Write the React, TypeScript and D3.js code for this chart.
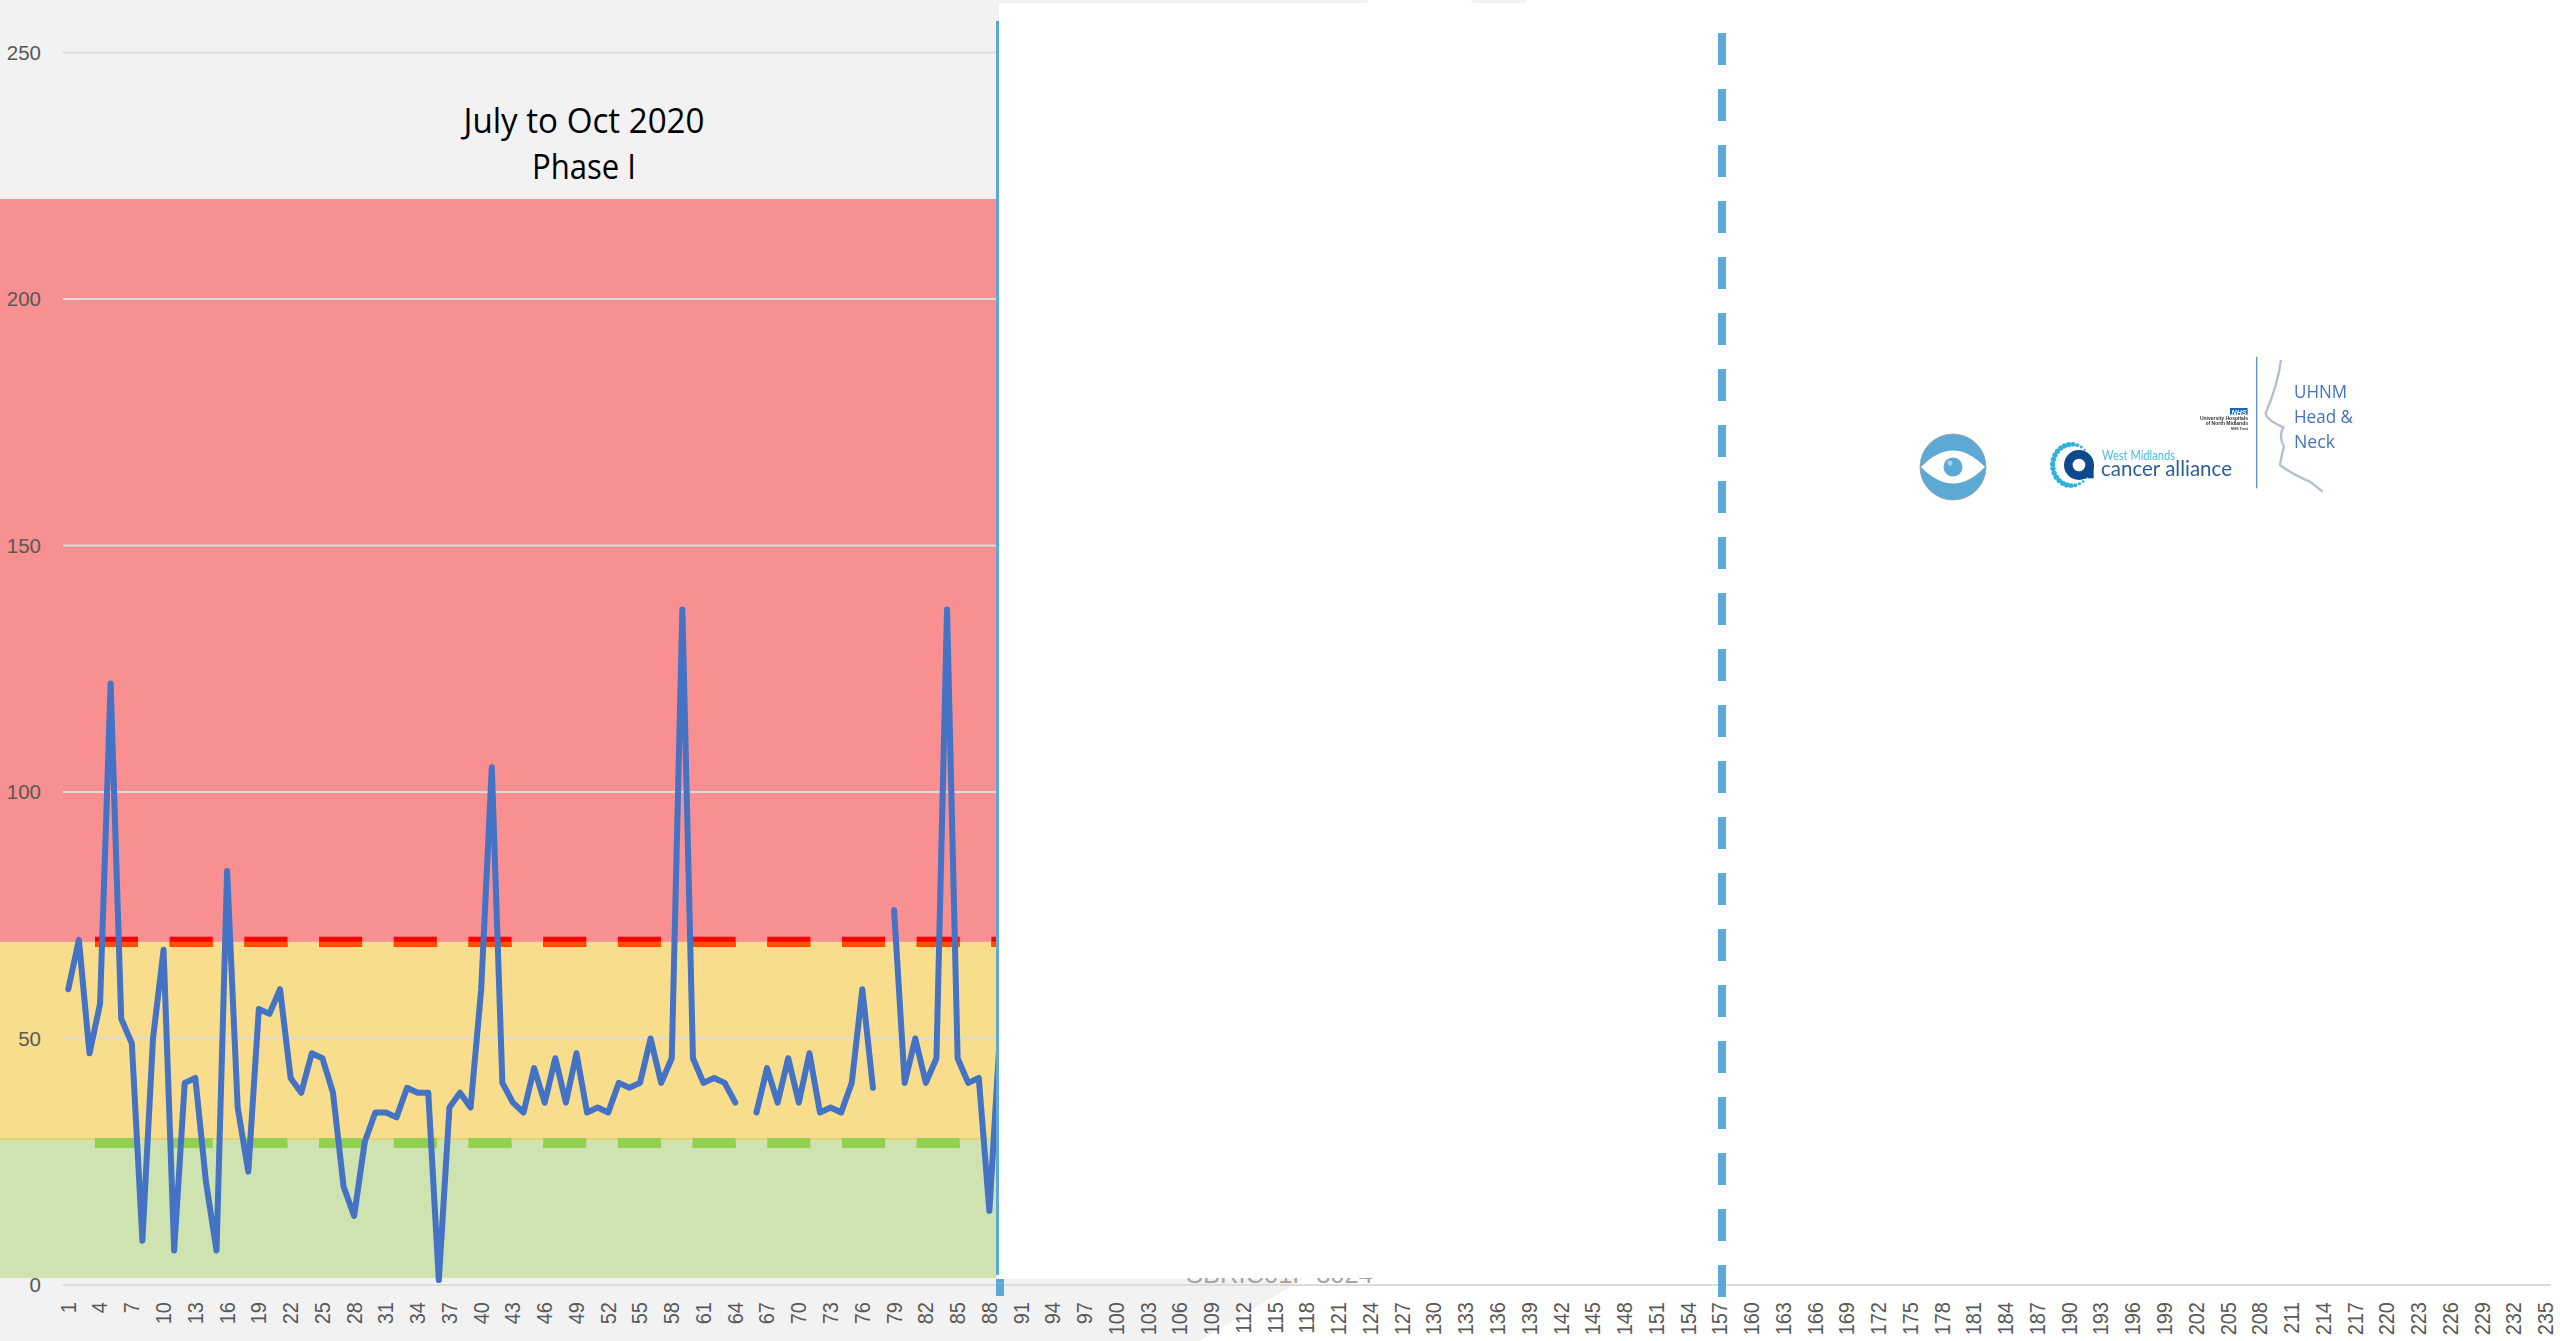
import React from "react";
import * as d3 from "d3";

const W = 2560, H = 1341;
const categoryCount = 235;
const categories = d3.range(1, categoryCount + 1);
const yTicks = [0, 50, 100, 150, 200, 250];
const seriesValues: (number | null)[] = [
  60, 70, 47, 57, 122, 54, 49, 9, 50, 68, 7, 41, 42, 21, 7, 84, 36, 23, 56, 55,
  60, 42, 39, 47, 46, 39, 20, 14, 29, 35, 35, 34, 40, 39, 39, 1, 36, 39, 36, 60,
  105, 41, 37, 35, 44, 37, 46, 37, 47, 35, 36, 35, 41, 40, 41, 50, 41, 46, 137, 46,
  41, 42, 41, 37, null, 35, 44, 37, 46, 37, 47, 35, 36, 35, 41, 60, 40, null, 76, 41,
  50, 41, 46, 137, 46, 41, 42, 15, 51,
];
const bandEdges = [1.4, 29.6, 69.6, 220.3];
const bandColors = ["#cee3b0", "#f8dd8d", "#f88f90"];
const upperLimit = 69.6;
const lowerLimit = 28.8;
const titleLines = ["July to Oct 2020", "Phase I"];
const titleWidths = [241, 104];
const logoLines = ["UHNM", "Head &", "Neck"];
const logoWidths = [53, 59, 41];

const x = d3.scaleBand<number>().domain(categories).range([63, 2551]);
const y = d3.scaleLinear().domain([0, 250]).range([1285, 52.5]);
const cx = (c: number) => (x(c) as number) + x.bandwidth() / 2;

const line = d3
  .line<number | null>()
  .defined((d) => d !== null)
  .x((_, i) => cx(categories[i]))
  .y((d) => y(d as number));

const SANS = "'Open Sans', sans-serif";
const AXIS = "'Liberation Sans', sans-serif";
const PANEL_X = 996;

function Limit({ value, top, bottom }: { value: number; top: string; bottom: string }) {
  const yy = y(value);
  return (
    <g fill="none" strokeDasharray="43 31.7">
      <line x1={95} x2={PANEL_X} y1={yy} y2={yy} stroke={top} strokeWidth={10} />
      <line x1={95} x2={PANEL_X} y1={yy + 2.5} y2={yy + 2.5} stroke={bottom} strokeWidth={5} />
    </g>
  );
}

function Logos() {
  const arcDots = d3.range(40, 321, 13).map((deg) => {
    const a = (deg * Math.PI) / 180;
    const fade = Math.min(1, Math.min(deg - 30, 330 - deg) / 70);
    return { x: 575 + 57 * Math.cos(a), y: 375 + 62 * Math.sin(a), r: 2 + 6 * fade };
  });
  return (
    <g filter="url(#soft)">
      <circle cx={1953} cy={467} r={33} fill="#5ba9d6" stroke="#9a9a9a" strokeWidth={0.8} />
      <path d="M1921 467 Q1953 434 1985 467 Q1953 500 1921 467 Z" fill="#fff" />
      <circle cx={1953} cy={467} r={9.5} fill="#5ba9d6" />
      <circle cx={1950} cy={463} r={2.5} fill="#a8d4ec" />
      <g transform="translate(1880,340) scale(0.3333)">
        {arcDots.map((d, i) => (
          <circle key={i} cx={d.x} cy={d.y} r={d.r} fill="#2eb2dd" />
        ))}
        <circle cx={597} cy={375} r={32} fill="none" stroke="#0d4a8c" strokeWidth={26} />
        <rect x={623} y={375} width={18} height={40} fill="#0d4a8c" />
        <path
          d="M1203 60 Q1195 130 1157 220 Q1160 240 1210 262 Q1195 290 1212 320 Q1205 345 1200 375 Q1240 405 1290 425 L1328 455"
          fill="none"
          stroke="#b4bfcf"
          strokeWidth={7}
        />
        <line x1={1130} x2={1130} y1={50} y2={445} stroke="#5a8fd6" strokeWidth={4} />
        <rect x={1050} y={204} width={53} height={20} fill="#1f66b8" />
      </g>
      <text x={2239} y={415} fontFamily={AXIS} fontSize={7} fontWeight={700} fontStyle="italic" fill="#fff" textAnchor="middle">NHS</text>
      <g fontFamily={AXIS} fill="#333" textAnchor="end" fontWeight={700}>
        <text x={2248} y={420} fontSize={5}>University Hospitals</text>
        <text x={2248} y={425} fontSize={5}>of North Midlands</text>
        <text x={2248} y={430} fontSize={3.5}>NHS Trust</text>
      </g>
      <text x={2102} y={460} fontFamily="Lato, sans-serif" fontSize={13} fill="#4dbde8" textLength={73} lengthAdjust="spacingAndGlyphs">West Midlands</text>
      <text x={2101} y={476} fontFamily="Lato, sans-serif" fontSize={22} fill="#2b5f9e" textLength={131} lengthAdjust="spacingAndGlyphs">cancer alliance</text>
      {logoLines.map((t, i) => (
        <text key={t} x={2294} y={398 + i * 25} fontFamily={SANS} fontSize={19} fill="#4472c4" textLength={logoWidths[i]} lengthAdjust="spacingAndGlyphs">{t}</text>
      ))}
    </g>
  );
}

export default function App() {
  return (
    <svg
      width={W}
      height={H}
      viewBox={`0 0 ${W} ${H}`}
      style={{ position: "fixed", left: 0, top: 0, display: "block", background: "#f2f2f2" }}
    >
      <defs>
        <clipPath id="plot"><rect x={0} y={0} width={PANEL_X} height={H} /></clipPath>
        <clipPath id="cut"><rect x={1100} y={1278} width={400} height={7} /></clipPath>
        <filter id="soft" x="-5%" y="-5%" width="110%" height="110%"><feGaussianBlur stdDeviation="0.4" /></filter>
      </defs>

      {bandColors.map((c, i) => (
        <rect key={c} x={0} width={PANEL_X} y={y(bandEdges[i + 1])} height={y(bandEdges[i]) - y(bandEdges[i + 1])} fill={c} />
      ))}
      <line x1={0} x2={PANEL_X} y1={y(bandEdges[1])} y2={y(bandEdges[1])} stroke="#e3d46e" strokeWidth={2} />

      {yTicks.filter((t) => t > 0).map((t) => (
        <line key={t} x1={63} x2={PANEL_X} y1={y(t)} y2={y(t)} stroke="#dcdcdc" strokeWidth={2} />
      ))}

      <Limit value={upperLimit} top="#ff0000" bottom="#ff5000" />
      <Limit value={lowerLimit} top="#92d050" bottom="#92d050" />

      <path
        d={line(seriesValues) as string}
        fill="none"
        stroke="#4472c4"
        strokeWidth={6}
        strokeLinecap="round"
        strokeLinejoin="round"
        clipPath="url(#plot)"
      />

      <path d="M999 3 L1366 3 L1369 0 L2560 0 L2560 1341 L1199 1341 L1303 1279 L999 1279 Z" fill="#fff" />
      <path d="M1470 3 L1473 0 L1527 0 L1524 3 Z" fill="#f2f2f2" />

      <text x={1186} y={1283} fontFamily={AXIS} fontSize={26} fill="#a6a6a6" textLength={187} lengthAdjust="spacingAndGlyphs" clipPath="url(#cut)">SBRIC01P 3024</text>

      <line x1={63} x2={2551} y1={y(0)} y2={y(0)} stroke="#dcdcdc" strokeWidth={2} />

      <rect x={PANEL_X} y={21} width={3} height={1275 - 21} fill="#5ba9d6" />
      <rect x={PANEL_X} y={1279} width={8} height={17} fill="#5ba9d6" />
      <line x1={1722} x2={1722} y1={33} y2={1297} stroke="#5ba9d6" strokeWidth={8} strokeDasharray="32 24" />

      {titleLines.map((t, i) => (
        <text
          key={t}
          x={584}
          y={133 + i * 46}
          textAnchor="middle"
          fontFamily={SANS}
          fontSize={34}
          fill="#000"
          textLength={titleWidths[i]}
          lengthAdjust="spacingAndGlyphs"
        >
          {t}
        </text>
      ))}

      {yTicks.map((t) => (
        <text key={t} x={41} y={y(t)} dy="0.35em" textAnchor="end" fontFamily={AXIS} fontSize={20.5} fill="#595959">{t}</text>
      ))}

      {categories.filter((c) => (c - 1) % 3 === 0).map((c) => (
        <text
          key={c}
          transform={`translate(${cx(c)},1302) rotate(-90) scale(1,1.06)`}
          dy="0.35em"
          textAnchor="end"
          fontFamily={AXIS}
          fontSize={20}
          fill="#595959"
        >
          {c}
        </text>
      ))}

      <Logos />
    </svg>
  );
}
